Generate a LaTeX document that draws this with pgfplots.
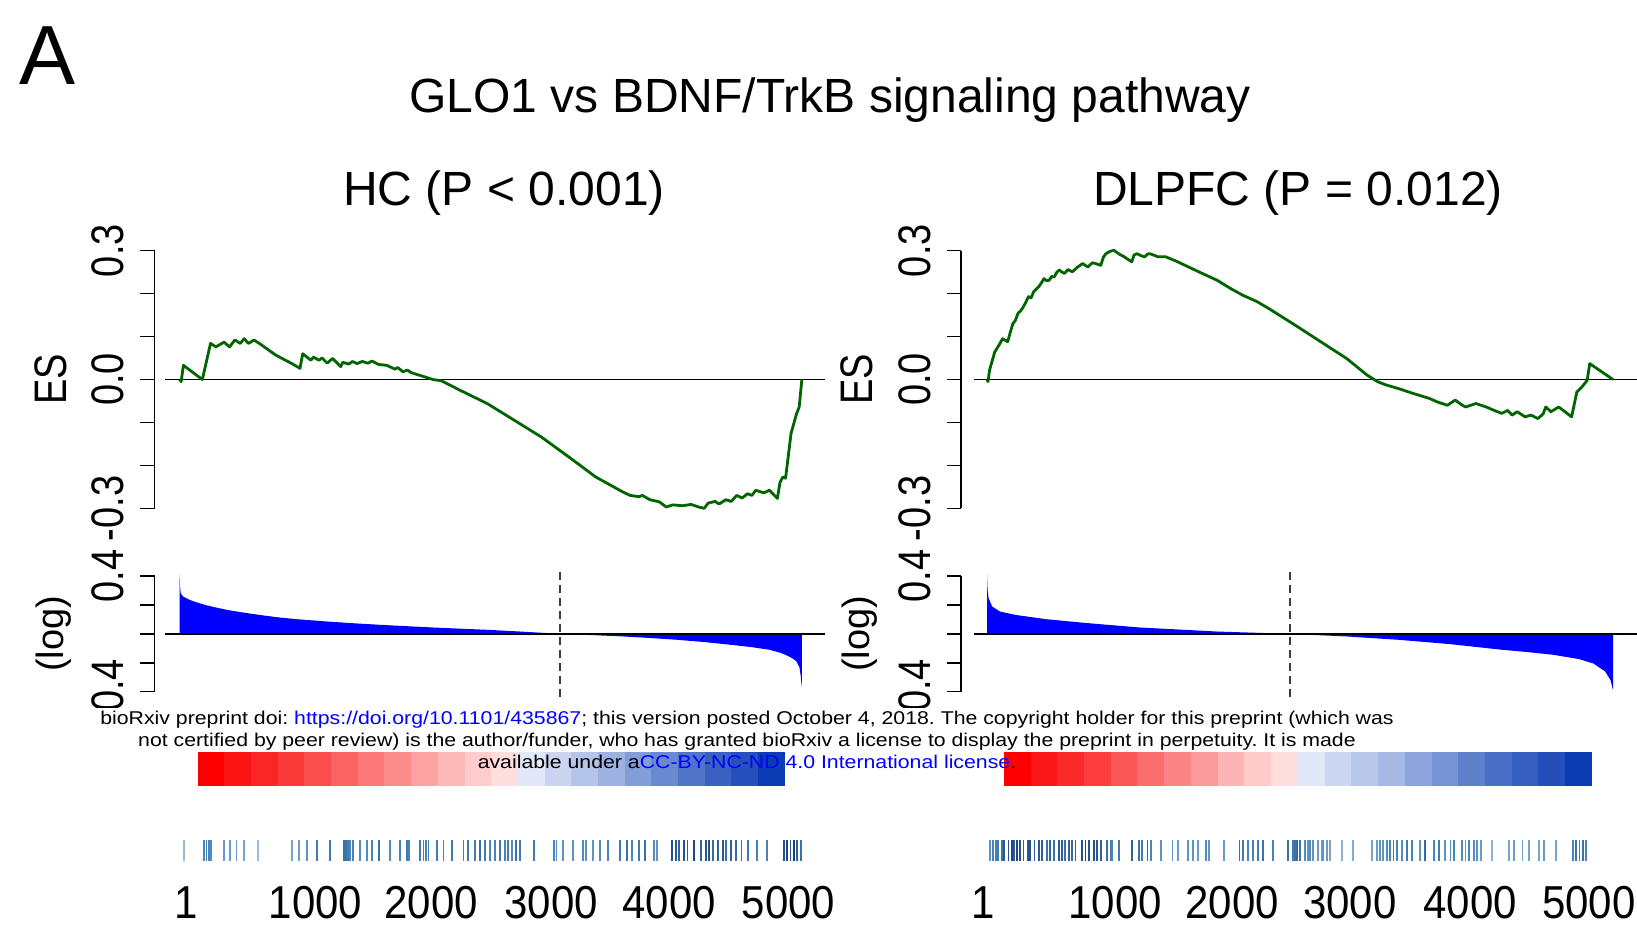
\documentclass[border=0pt]{standalone}
\usepackage{fontspec}
\setmainfont{Liberation Sans}
\usepackage{pgfplots}
\pgfplotsset{compat=1.18}
\usepackage{pgfplotstable}
\frenchspacing

\definecolor{esgreen}{RGB}{0,100,0}
\definecolor{dashgray}{RGB}{60,60,60}
\definecolor{linkblue}{RGB}{0,0,255}
\newcommand\tfont{\fontsize{38}{40}\selectfont}
\newcommand\bfont{\fontsize{42}{44}\selectfont}
\newcommand\wfont{\fontsize{18.5}{20}\selectfont}

\pgfplotstableread{
r es
0 0
13 -0.005
31 0.033
187 0.000
254 0.084
298 0.076
365 0.087
410 0.076
454 0.092
499 0.084
530 0.095
566 0.084
610 0.092
655 0.084
789 0.057
922 0.037
989 0.026
1011 0.060
1078 0.045
1100 0.052
1145 0.045
1170 0.050
1212 0.038
1256 0.049
1323 0.030
1340 0.040
1390 0.036
1420 0.042
1457 0.037
1500 0.042
1546 0.038
1580 0.043
1635 0.035
1702 0.033
1769 0.024
1790 0.028
1835 0.018
1870 0.022
1902 0.016
1969 0.010
2036 0.004
2080 0.0
2150 -0.003
2303 -0.025
2526 -0.056
2749 -0.095
2971 -0.134
3194 -0.180
3417 -0.227
3640 -0.262
3700 -0.270
3773 -0.273
3800 -0.270
3862 -0.280
3940 -0.285
3996 -0.297
4050 -0.292
4130 -0.294
4200 -0.291
4263 -0.297
4308 -0.300
4340 -0.288
4397 -0.284
4430 -0.290
4486 -0.280
4530 -0.284
4575 -0.270
4620 -0.276
4664 -0.266
4700 -0.270
4731 -0.258
4798 -0.264
4843 -0.258
4909 -0.277
4930 -0.240
4954 -0.227
4976 -0.230
5000 -0.175
5021 -0.126
5065 -0.081
5088 -0.064
5110 0.0
}\hcES

\pgfplotstableread{
r es
0 0
8 -0.005
21 0.022
63 0.064
106 0.084
127 0.095
169 0.088
190 0.110
211 0.130
232 0.138
253 0.154
275 0.160
296 0.169
317 0.180
338 0.193
360 0.190
380 0.204
400 0.210
422 0.216
444 0.225
465 0.235
486 0.230
507 0.231
528 0.240
549 0.239
570 0.250
591 0.255
612 0.250
633 0.247
660 0.256
697 0.251
740 0.262
781 0.270
823 0.262
860 0.272
887 0.270
929 0.266
950 0.285
971 0.293
1000 0.298
1035 0.301
1080 0.292
1119 0.286
1150 0.280
1182 0.274
1200 0.290
1225 0.293
1260 0.288
1288 0.286
1310 0.292
1330 0.293
1394 0.286
1457 0.286
1550 0.275
1668 0.259
1750 0.248
1879 0.231
2000 0.210
2090 0.196
2200 0.182
2302 0.165
2513 0.127
2724 0.088
2935 0.049
3104 0.010
3188 -0.005
3250 -0.012
3357 -0.021
3484 -0.033
3610 -0.044
3674 -0.052
3758 -0.060
3822 -0.048
3870 -0.058
3906 -0.064
3990 -0.056
4075 -0.064
4140 -0.072
4202 -0.079
4250 -0.072
4286 -0.083
4328 -0.075
4392 -0.087
4440 -0.083
4497 -0.091
4540 -0.080
4561 -0.064
4603 -0.075
4667 -0.064
4772 -0.087
4815 -0.029
4857 -0.017
4899 -0.002
4920 0.037
5110 0.0
}\dlES

\pgfplotstableread{
r m
0 0.41
5 0.32
9 0.28
31 0.257
70 0.24
120 0.223
209 0.2
300 0.182
388 0.166
500 0.15
655 0.131
800 0.115
967 0.101
1200 0.086
1412 0.074
1700 0.06
2080 0.044
2300 0.036
2526 0.028
2800 0.016
3121 0
3400 -0.009
3640 -0.018
3850 -0.028
4085 -0.041
4300 -0.056
4531 -0.076
4700 -0.092
4843 -0.11
4930 -0.13
4976 -0.145
5030 -0.168
5065 -0.19
5090 -0.23
5101 -0.294
5110 -0.37
}\hcM

\pgfplotstableread{
r m
0 0.41
5 0.30
13 0.246
42 0.189
106 0.154
232 0.131
486 0.101
823 0.074
1246 0.044
1879 0.016
2470 0
2935 -0.018
3357 -0.041
3780 -0.071
4202 -0.11
4400 -0.125
4624 -0.145
4835 -0.175
4950 -0.205
5046 -0.26
5090 -0.32
5110 -0.39
}\dlM

\pgfplotstableread{
r y c
35 0 0.15
200 0 0.5
221 0 0.55
240 0 0.5
260 0 0.45
364 0 0.35
413 0 0.35
467 0 0.35
527 0 0.3
642 0 0.15
924 0 0.3
979 0 0.35
1047 0 0.4
1129 0 0.55
1238 0 0.55
1347 0 0.6
1367 0 0.6
1383 0 0.55
1402 0 0.5
1421 0 0.5
1484 0 0.45
1539 0 0.45
1580 0 0.5
1634 0 0.6
1730 0 0.45
1812 0 0.5
1867 0 0.55
1886 0 0.5
1976 0 0.55
2003 0 0.5
2023 0 0.5
2044 0 0.55
2113 0 0.55
2167 0 0.5
2236 0 0.55
2331 0 0.5
2372 0 0.55
2427 0 0.55
2468 0 0.6
2509 0 0.55
2550 0 0.5
2591 0 0.5
2632 0 0.55
2673 0 0.5
2700 0 0.55
2729 0 0.45
2764 0 0.6
2798 0 0.55
2908 0 0.55
3075 0 0.5
3095 0 0.45
3145 0 0.4
3228 0 0.4
3311 0 0.45
3339 0 0.4
3394 0 0.4
3449 0 0.45
3519 0 0.5
3616 0 0.55
3671 0 0.6
3713 0 0.5
3769 0 0.55
3824 0 0.6
3894 0 0.45
3921 0 0.4
4046 0 0.8
4073 0 0.75
4102 0 0.7
4143 0 0.8
4171 0 0.7
4227 0 0.85
4281 0 0.7
4323 0 0.75
4351 0 0.8
4378 0 0.65
4420 0 0.7
4462 0 0.75
4489 0 0.6
4531 0 0.7
4572 0 0.65
4614 0 0.6
4670 0 0.55
4739 0 0.5
4822 0 0.5
4961 0 0.8
4988 0 0.85
5017 0 0.75
5044 0 0.9
5071 0 0.7
5100 0 0.6
}\hcB

\pgfplotstableread{
r y c
25 0 0.4
52 0 0.5
71 0 0.5
93 0 0.55
120 0 0.6
142 0 0.75
175 0 0.8
202 0 0.85
221 0 0.75
243 0 0.85
271 0 0.8
298 0 0.7
333 0 0.75
353 0 0.8
388 0 0.7
421 0 0.75
448 0 0.7
489 0 0.6
517 0 0.7
544 0 0.6
585 0 0.75
612 0 0.7
640 0 0.6
667 0 0.7
694 0 0.65
722 0 0.7
776 0 0.8
804 0 0.85
831 0 0.8
872 0 0.8
899 0 0.75
927 0 0.7
981 0 0.6
1009 0 0.55
1022 0 0.5
1077 0 0.55
1186 0 0.7
1241 0 0.6
1268 0 0.55
1310 0 0.6
1337 0 0.5
1419 0 0.4
1514 0 0.4
1556 0 0.35
1637 0 0.4
1678 0 0.4
1719 0 0.35
1788 0 0.45
1815 0 0.4
1938 0 0.35
2061 0 0.6
2088 0 0.55
2129 0 0.5
2170 0 0.5
2211 0 0.55
2252 0 0.6
2334 0 0.5
2457 0 0.6
2498 0 0.55
2517 0 0.6
2534 0 0.65
2553 0 0.6
2594 0 0.45
2621 0 0.4
2635 0 0.45
2662 0 0.4
2703 0 0.35
2731 0 0.35
2744 0 0.4
2772 0 0.35
2799 0 0.3
2895 0 0.2
2990 0 0.25
3141 0 0.3
3182 0 0.35
3209 0 0.4
3236 0 0.4
3264 0 0.45
3291 0 0.5
3318 0 0.55
3346 0 0.5
3387 0 0.45
3428 0 0.55
3469 0 0.5
3537 0 0.4
3578 0 0.65
3646 0 0.5
3688 0 0.55
3742 0 0.4
3783 0 0.45
3810 0 0.5
3879 0 0.45
3906 0 0.4
3933 0 0.5
3974 0 0.45
4002 0 0.4
4029 0 0.35
4125 0 0.2
4262 0 0.3
4303 0 0.35
4371 0 0.3
4426 0 0.3
4508 0 0.3
4549 0 0.35
4644 0 0.3
4781 0 0.5
4808 0 0.6
4836 0 0.55
4863 0 0.6
4890 0 0.5
}\dlB

\pgfplotstableread{
x y c
260.6 0 0
479.7 0 0.91
698.8 0 1.82
917.9 0 2.73
1137.0 0 3.64
1356.1 0 4.55
1575.2 0 5.45
1794.3 0 6.36
2013.4 0 7.27
2232.5 0 8.18
2451.6 0 9.09
2670.7 0 10
2889.8 0 11
3108.9 0 12.11
3328.0 0 13.22
3547.1 0 14.33
3766.2 0 15.44
3985.3 0 16.56
4204.4 0 17.67
4423.5 0 18.78
4642.6 0 19.89
4861.7 0 21
}\cbL

\pgfplotstableread{
x y c
248.1 0 0
466.3 0 1
684.5 0 2
902.7 0 3
1120.9 0 4
1339.1 0 5
1557.3 0 6
1775.5 0 7
1993.7 0 8
2211.9 0 9
2430.1 0 10
2648.3 0 11
2866.5 0 12
3084.7 0 13
3302.9 0 14
3521.1 0 15
3739.3 0 16
3957.5 0 17
4175.7 0 18
4393.9 0 19
4612.1 0 20
4830.3 0 21
}\cbR

\pgfplotsset{
  colormap={rbbar}{rgb255=(255,0,0) rgb255=(250,22,22) rgb255=(250,42,42) rgb255=(250,62,62) rgb255=(250,86,86) rgb255=(250,110,110) rgb255=(251,132,132) rgb255=(252,155,155) rgb255=(253,180,180) rgb255=(254,202,202) rgb255=(255,222,222) rgb255=(225,232,250) rgb255=(205,215,242) rgb255=(185,200,235) rgb255=(165,185,228) rgb255=(140,165,220) rgb255=(118,148,212) rgb255=(95,128,205) rgb255=(75,110,198) rgb255=(55,95,192) rgb255=(35,78,188) rgb255=(12,60,180)},
  colormap={bcmap}{rgb255=(190,212,232) rgb255=(70,132,185) rgb255=(15,45,105)},
  base/.style={scale only axis, clip=false, anchor=south west,
    axis line style={black,line width=1.5pt},
    every tick/.style={black,line width=1.5pt},
    tick align=outside, major tick length=14pt},
  esax/.style={base, axis x line=none, axis y line*=left,
    ymin=-0.3, ymax=0.3, height=257.6pt,
    ytick={-0.3,-0.2,-0.1,0,0.1,0.2,0.3}, yticklabels={-0.3,,,0.0,,,0.3},
    yticklabel style={xshift=-16pt, rotate=90, anchor=south, inner sep=0pt, font=\tfont, yscale=1.2},
    every axis y label/.style={at={(axis description cs:-0.155,0.5)}, anchor=center, rotate=90, yscale=1.2, font=\tfont}},
  mtax/.style={base, axis x line=none, axis y line*=left,
    ymin=-0.4, ymax=0.4, height=115.7pt,
    ytick={-0.4,-0.2,0,0.2,0.4}, yticklabels={-0.4,,,,0.4},
    yticklabel style={xshift=-16pt, rotate=90, anchor=south, inner sep=0pt, font=\tfont, yscale=1.2},
    every axis y label/.style={at={(axis description cs:-0.15,0.5)}, anchor=center, rotate=90, font=\tfont}},
  cbax/.style={scale only axis, clip=false, anchor=south west, hide axis,
    height=34pt, ymin=-1, ymax=1, colormap name=rbbar, point meta min=0, point meta max=21},
  bcax/.style={scale only axis, clip=false, anchor=south west,
    height=60pt, ymin=-39.5, ymax=20.5, axis y line=none, axis x line*=bottom,
    x axis line style={draw=none}, xtick style={draw=none},
    xticklabels={1,1000,2000,3000,4000,5000},
    xticklabel style={anchor=base, inner sep=0pt, yshift=-28pt, font=\bfont, yscale=1.1},
    colormap name=bcmap, point meta min=0, point meta max=1},
}

\begin{document}
\begin{tikzpicture}
\useasboundingbox (0pt,0pt) rectangle (1637pt,930pt);

\node[anchor=base west, inner sep=0pt, font=\fontsize{84}{90}\selectfont] at (19pt,845.5pt) {A};
\node[anchor=base, inner sep=0pt, font=\fontsize{48}{56}\selectfont] at (830pt,817pt) {GLO1 vs BDNF/TrkB signaling pathway};
\node[anchor=base, inner sep=0pt, font=\fontsize{48}{56}\selectfont] at (504pt,724.5pt) {HC (P < 0.001)};
\node[anchor=base, inner sep=0pt, font=\fontsize{48}{56}\selectfont] at (1298pt,724.5pt) {DLPFC (P = 0.012)};

% ---- left panel ----
\begin{axis}[esax, at={(154.5pt,421.7pt)}, width=670.5pt, xmin=-206, xmax=5300, ylabel={ES}]
\addplot[black, line width=1.8pt] coordinates {(-120,0) (5300,0)};
\addplot[esgreen, line width=2.8pt, line join=round] table[x=r,y=es] {\hcES};
\end{axis}
\begin{axis}[mtax, at={(154.5pt,238.3pt)}, width=670.5pt, xmin=-206, xmax=5300, ylabel={(log)}]
\addplot[fill=blue, draw=none] table[x=r,y=m] {\hcM} \closedcycle;
\addplot[black, line width=1.8pt] coordinates {(-120,0) (5300,0)};
\addplot[dashgray, line width=2pt, dash pattern=on 8pt off 5pt] coordinates {(3121,0.43) (3121,-0.44)};
\end{axis}

% ---- right panel ----
\begin{axis}[esax, at={(961.2pt,421.7pt)}, width=675.8pt, xmin=-210.6, xmax=5306, ylabel={ES}]
\addplot[black, line width=1.8pt] coordinates {(-110,0) (5306,0)};
\addplot[esgreen, line width=2.8pt, line join=round] table[x=r,y=es] {\dlES};
\end{axis}
\begin{axis}[mtax, at={(961.2pt,238.3pt)}, width=675.8pt, xmin=-210.6, xmax=5306, ylabel={(log)}]
\addplot[fill=blue, draw=none] table[x=r,y=m] {\dlM} \closedcycle;
\addplot[black, line width=1.8pt] coordinates {(-110,0) (5306,0)};
\addplot[dashgray, line width=2pt, dash pattern=on 8pt off 5pt] coordinates {(2470,0.43) (2470,-0.44)};
\end{axis}

\fill[white] (0pt,180pt) rectangle (1637pt,222pt);

% ---- colour bars ----
\begin{axis}[cbax, at={(154.5pt,144pt)}, width=670.5pt, xmin=-206, xmax=5300]
\addplot[scatter, only marks, mark=|, mark size=17pt, mark options={line width=27.2pt},
  scatter/use mapped color={draw=mapped color, fill=mapped color}, point meta=explicit]
  table[x=x, y=y, meta=c] {\cbL};
\end{axis}
\begin{axis}[cbax, at={(961.2pt,144pt)}, width=675.8pt, xmin=-210.6, xmax=5306]
\addplot[scatter, only marks, mark=|, mark size=17pt, mark options={line width=27.2pt},
  scatter/use mapped color={draw=mapped color, fill=mapped color}, point meta=explicit]
  table[x=x, y=y, meta=c] {\cbR};
\end{axis}

% ---- barcodes and rank labels ----
\begin{axis}[bcax, at={(154.5pt,40pt)}, width=670.5pt, xmin=-206, xmax=5300,
  xtick={51,1115,2067,3052,4021,5000}]
\addplot[scatter, only marks, mark=|, mark size=10.5pt, mark options={line width=1.9pt},
  scatter/use mapped color={draw=mapped color, fill=mapped color}, point meta=explicit]
  table[x=r, y=y, meta=c] {\hcB};
\end{axis}
\begin{axis}[bcax, at={(961.2pt,40pt)}, width=675.8pt, xmin=-210.6, xmax=5306,
  xtick={-29,1045,2000,2963,3943,4914}]
\addplot[scatter, only marks, mark=|, mark size=10.5pt, mark options={line width=1.9pt},
  scatter/use mapped color={draw=mapped color, fill=mapped color}, point meta=explicit]
  table[x=r, y=y, meta=c] {\dlB};
\end{axis}

% ---- preprint notice ----
\node[anchor=base, inner sep=0pt, font=\wfont, xscale=1.15] at (747pt,206pt) {bioRxiv preprint doi: \textcolor{linkblue}{https://doi.org/10.1101/435867}; this version posted October 4, 2018. The copyright holder for this preprint (which was};
\node[anchor=base, inner sep=0pt, font=\wfont, xscale=1.15] at (747pt,184pt) {not certified by peer review) is the author/funder, who has granted bioRxiv a license to display the preprint in perpetuity. It is made};
\node[anchor=base, inner sep=0pt, font=\wfont, xscale=1.15] at (747pt,162pt) {available under a\textcolor{linkblue}{CC-BY-NC-ND 4.0 International license}.};
\end{tikzpicture}
\end{document}
